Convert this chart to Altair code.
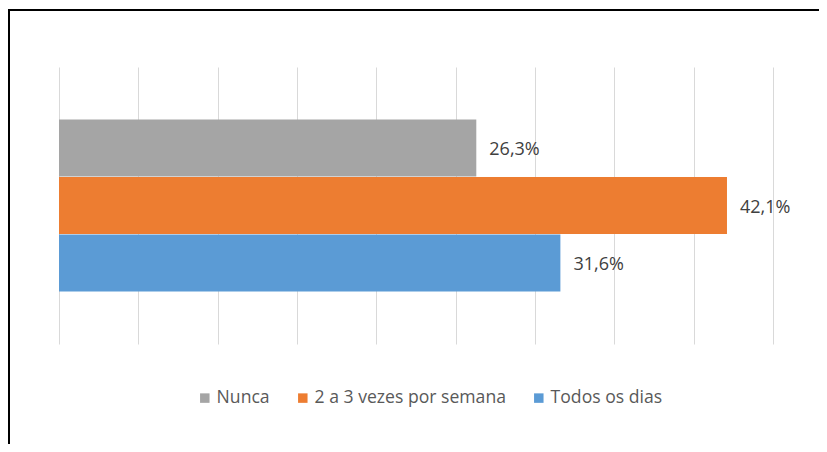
import altair as alt
import pandas as pd

series = ["Nunca", "2 a 3 vezes por semana", "Todos os dias"]
values = [26.3, 42.1, 31.6]
colors = ["#A5A5A5", "#ED7D31", "#5B9BD5"]
ticks = [0, 5, 10, 15, 20, 25, 30, 35, 40, 45]

df = pd.DataFrame({
    "serie": series,
    "valor": values,
    "rotulo": [f"{v:.1f}".replace(".", ",") + "%" for v in values],
})

FONT = "Open Sans"

x_enc = alt.X("valor:Q", scale=alt.Scale(domain=[0, 45], nice=False),
              axis=alt.Axis(values=ticks, labels=False, ticks=False, domain=False,
                            title=None, grid=True, gridColor="#D9D9D9", gridWidth=1))
y_enc = alt.Y("serie:N", sort=series,
              scale=alt.Scale(paddingInner=0, paddingOuter=0.91),
              axis=None)

bars = alt.Chart(df).mark_bar(size=57).encode(
    x=x_enc,
    y=y_enc,
    color=alt.Color("serie:N", sort=series,
                    scale=alt.Scale(domain=series, range=colors),
                    legend=alt.Legend(
                        title=None, orient="none", direction="horizontal",
                        legendX=137, legendY=322, symbolType="square",
                        symbolSize=90, symbolStrokeWidth=0, labelFont=FONT,
                        labelFontSize=17.6, labelColor="#595959", labelOffset=3,
                        columnPadding=24, padding=0, labelLimit=400)),
)

labels = alt.Chart(df).mark_text(align="left", baseline="middle", dx=13, dy=2,
                                 font=FONT, fontSize=18, color="#404040").encode(
    x="valor:Q",
    y=alt.Y("serie:N", sort=series, axis=None),
    text="rotulo:N",
)

border = alt.Chart(alt.Data(values=[{}])).mark_rule(color="black", strokeWidth=2)
left_border = border.encode(x=alt.value(-50), y=alt.value(-58), y2=alt.value(380))
top_border = border.encode(x=alt.value(-51), x2=alt.value(770), y=alt.value(-57))

chart = alt.layer(bars, labels, left_border, top_border).properties(
    width=714, height=277,
    background="white",
    autosize=alt.AutoSizeParams(type="none"),
    padding={"left": 51, "top": 59, "right": 46, "bottom": 100},
).configure_view(strokeWidth=0, stroke="transparent")

chart.save("out.html", embed_options={"renderer": "svg", "actions": False})
